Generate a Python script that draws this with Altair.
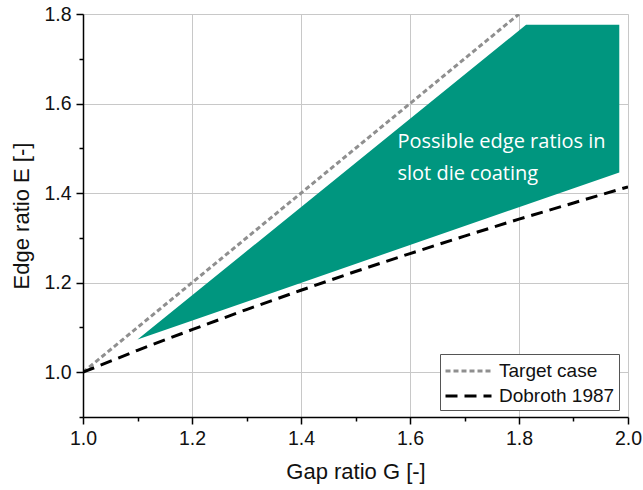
import altair as alt
import pandas as pd

# Feasible region for edge ratios (upper and lower bounds along G)
region_g = [1.10, 1.813, 1.984]
region_upper = [1.073, 1.776, 1.776]
region_lower = [1.073, 1.374, 1.446]

# Reference curves
target_g = [1.0, 1.8]
target_e = [1.0, 1.8]
dobroth_g = [1.0, 1.1, 1.2, 1.3, 1.4, 1.5, 1.6, 1.7, 1.8, 1.9, 2.0]
dobroth_e = [1.000, 1.049, 1.095, 1.140, 1.183, 1.225, 1.265, 1.304, 1.342, 1.378, 1.414]

series_names = ["Target case", "Dobroth 1987"]
x_major = [1.0, 1.2, 1.4, 1.6, 1.8, 2.0]
x_minor = [1.1, 1.3, 1.5, 1.7, 1.9]
y_major = [1.0, 1.2, 1.4, 1.6, 1.8]
y_minor = [0.9, 1.1, 1.3, 1.5, 1.7]

region = pd.DataFrame({"G": region_g, "upper": region_upper, "lower": region_lower})
lines = pd.concat([
    pd.DataFrame({"G": target_g, "E": target_e, "series": series_names[0]}),
    pd.DataFrame({"G": dobroth_g, "E": dobroth_e, "series": series_names[1]}),
])
note = pd.DataFrame({"G": [1.577], "E": [1.514],
                     "text": ["Possible edge ratios in\nslot die coating"]})

FONT = "Liberation Sans"


def major_axis(title, values, orient, title_pad):
    # ticks, labels and axis line, drawn in front
    return alt.Axis(
        title=title, values=values, orient=orient, format=".1f", labelFlush=False,
        grid=False, ticks=True, tickSize=7, labelFontSize=19.5, titleFontSize=22,
        labelFont=FONT, titleFont=FONT, zindex=1,
        titleFontWeight="normal", labelColor="#111", titleColor="#111",
        domain=True, domainColor="black", domainWidth=1.5,
        tickColor="black", tickWidth=1.5,
        titlePadding=title_pad, labelPadding=5,
    )


def minor_axis(values, orient):
    return alt.Axis(
        title=None, values=values, orient=orient, labels=False, grid=False,
        domain=False, ticks=True, tickSize=4, tickColor="black", tickWidth=1.5,
        zindex=1,
    )


def grid_axis(values, orient):
    # gridlines at the major values, kept behind the marks
    return alt.Axis(
        title=None, values=values, orient=orient, labels=False, ticks=False,
        domain=False, grid=True, gridColor="#c8c8c8", gridWidth=1, zindex=0,
    )


x_scale = alt.Scale(domain=[1.0, 2.0], nice=False, zero=False)
y_scale = alt.Scale(domain=[0.9, 1.8], nice=False, zero=False)

grid = alt.Chart(region).mark_point(opacity=0).encode(
    x=alt.X("G:Q", scale=x_scale, axis=grid_axis(x_major, "bottom")),
    y=alt.Y("upper:Q", scale=y_scale, axis=grid_axis(y_major, "left")),
)

area = alt.Chart(region).mark_area(color="#00967f", opacity=1).encode(
    x=alt.X("G:Q", scale=x_scale,
            axis=major_axis("Gap ratio G [-]", x_major, "bottom", 14)),
    y=alt.Y("upper:Q", scale=y_scale,
            axis=major_axis("Edge ratio E [-]", y_major, "left", 10)),
    y2="lower:Q",
)

curves = alt.Chart(lines).mark_line(strokeWidth=3, clip=True).encode(
    x=alt.X("G:Q", scale=x_scale, axis=None),
    y=alt.Y("E:Q", scale=y_scale, axis=None),
    color=alt.Color("series:N", sort=series_names,
                    scale=alt.Scale(domain=series_names, range=["#8f8f8f", "#000000"]),
                    legend=alt.Legend(
                        title=None, orient="none", legendX=357, legendY=340,
                        symbolType="M-1,0H3", symbolSize=529, symbolStrokeWidth=3,
                        labelOffset=29, labelFont=FONT, labelFontSize=19,
                        labelColor="#111", labelLimit=300, strokeColor="#555",
                        padding=4, rowPadding=2, fillColor="white", zindex=3)),
    strokeDash=alt.StrokeDash("series:N", sort=series_names,
                              scale=alt.Scale(domain=series_names, range=[[5, 3], [12, 7]]),
                              legend=None),
    detail="series:N",
)

# Minor tick marks on the bottom and left axes
minor_ticks = alt.Chart(region).mark_point(opacity=0).encode(
    x=alt.X("G:Q", scale=x_scale, axis=minor_axis(x_minor, "bottom")),
    y=alt.Y("upper:Q", scale=y_scale, axis=minor_axis(y_minor, "left")),
)

label = alt.Chart(note).mark_text(
    align="left", baseline="middle", font="Open Sans", fontSize=20,
    color="white", lineHeight=32, lineBreak="\n",
).encode(x=alt.X("G:Q", scale=x_scale, axis=None),
         y=alt.Y("E:Q", scale=y_scale, axis=None), text="text:N")

chart = (
    alt.layer(grid, area, curves, label, minor_ticks)
    .resolve_axis(x="independent", y="independent")
    .properties(width=545, height=403,
                autosize=alt.AutoSizeParams(type="none"),
                padding={"left": 83, "top": 14, "right": 15, "bottom": 73})
    .configure_view(stroke="black", strokeWidth=1.5)
    .configure(background="white")
)

chart.save("out.html", embed_options={"renderer": "svg", "actions": False})
